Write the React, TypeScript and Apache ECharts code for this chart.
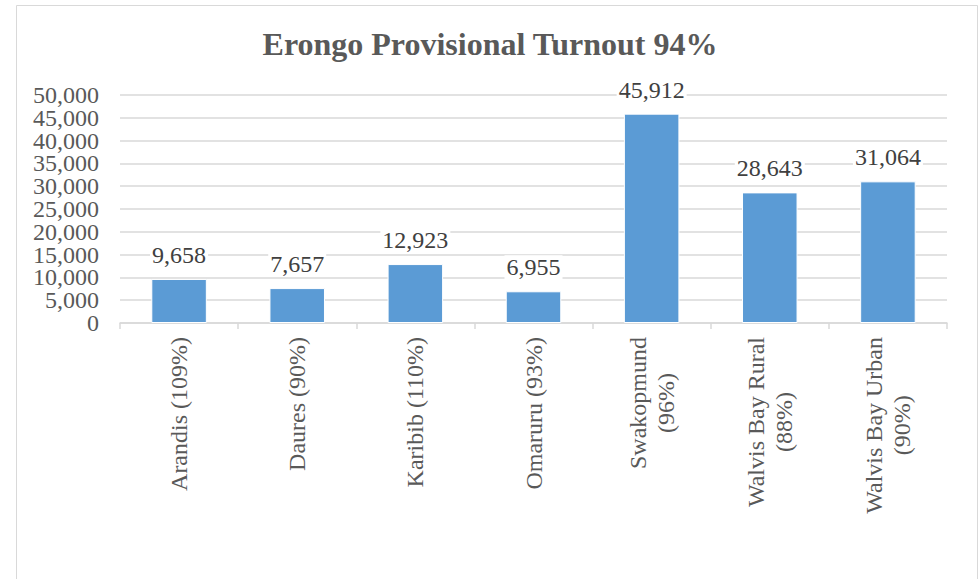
import React, { useEffect, useRef } from "react";
import * as echarts from "echarts";

const categories = [
  "Arandis (109%)",
  "Daures (90%)",
  "Karibib (110%)",
  "Omaruru (93%)",
  "Swakopmund\n(96%)",
  "Walvis Bay Rural\n(88%)",
  "Walvis Bay Urban\n(90%)",
];
const votes = [9658, 7657, 12923, 6955, 45912, 28643, 31064];
const yTicks = { min: 0, max: 50000, interval: 5000 };
const titleText = "Erongo Provisional Turnout 94%";

const FONT = "'Liberation Serif', 'Times New Roman', serif";

const yLabelStyle = {
  margin: 21,
  fontFamily: FONT,
  fontSize: 24,
  color: "#595959",
  formatter: (v: number) => v.toLocaleString("en-US"),
};

export default function App() {
  const ref = useRef<HTMLDivElement>(null);
  useEffect(() => {
    document.body.style.margin = "0";
    const chart = echarts.init(ref.current!, null, { renderer: "svg" });
    chart.setOption({
      animation: false,
      backgroundColor: "#ffffff",
      title: {
        text: titleText,
        left: "center",
        top: 23,
        padding: [5, 0, 5, 10],
        textStyle: {
          fontFamily: FONT,
          fontSize: 32,
          fontWeight: "bold",
          color: "#595959",
        },
      },
      graphic: [
        {
          type: "rect",
          shape: { x: 16.5, y: 5.5, width: 961, height: 620 },
          style: { fill: "none", stroke: "#d9d9d9", lineWidth: 1 },
          silent: true,
          z: -10,
        },
      ],
      grid: {
        left: 120,
        right: 33,
        top: 95,
        bottom: 256,
        containLabel: false,
        outerBoundsMode: "none",
      },
      xAxis: {
        type: "category",
        data: categories,
        axisLine: { show: true, lineStyle: { color: "#d9d9d9", width: 1.5 } },
        axisTick: { show: true, length: 6, lineStyle: { color: "#d9d9d9", width: 1.5 } },
        axisLabel: {
          rotate: 90,
          margin: 14,
          interval: 0,
          hideOverlap: false,
          fontFamily: FONT,
          fontSize: 24,
          color: "#595959",
          formatter: (v: string) =>
            v
              .split("\n")
              .map((s) => `{c|${s}}`)
              .join("\n"),
          rich: {
            c: {
              align: "center",
              fontFamily: FONT,
              fontSize: 24,
              lineHeight: 28,
              color: "#595959",
            },
          },
        },
      },
      yAxis: [
        {
          type: "value",
          min: yTicks.min,
          max: yTicks.max,
          interval: yTicks.interval,
          axisLine: { show: false },
          axisTick: { show: false },
          splitLine: { lineStyle: { color: "#d9d9d9", width: 1.5 } },
          axisLabel: { ...yLabelStyle, showMinLabel: false, showMaxLabel: false },
        },
        {
          type: "value",
          position: "left",
          min: yTicks.min,
          max: yTicks.max,
          interval: yTicks.max,
          axisLine: { show: false },
          axisTick: { show: false },
          splitLine: { show: false },
          axisLabel: { ...yLabelStyle, showMinLabel: true, showMaxLabel: true },
        },
      ],
      series: [
        {
          type: "bar",
          yAxisIndex: 0,
          data: votes,
          barWidth: "47%",
          itemStyle: { color: "#5b9bd5", borderColor: "#ffffff", borderWidth: 1 },
          label: {
            show: true,
            position: "top",
            distance: 12,
            fontFamily: FONT,
            fontSize: 24,
            color: "#404040",
            backgroundColor: "#ffffff",
            padding: [0, 2],
            formatter: (p: any) => Number(p.value).toLocaleString("en-US"),
          },
        },
      ],
    });
    return () => chart.dispose();
  }, []);
  return (
    <div
      ref={ref}
      style={{ position: "absolute", left: 0, top: 0, width: 980, height: 579 }}
    />
  );
}
